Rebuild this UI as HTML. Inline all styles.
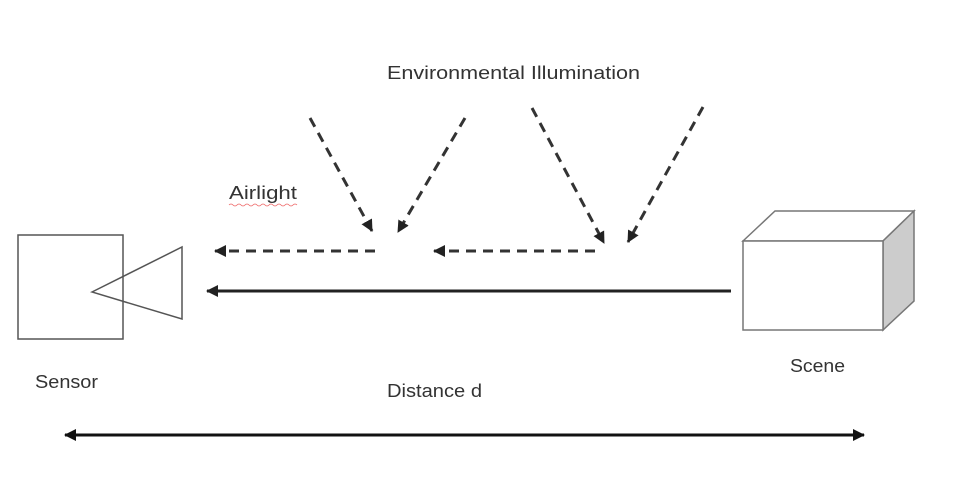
<!DOCTYPE html>
<html><head><meta charset="utf-8"><style>
html,body{margin:0;padding:0;background:#fff;width:977px;height:478px;overflow:hidden}
svg text{font-family:"Liberation Sans",sans-serif;font-size:18px;fill:#333}
</style></head><body>
<svg width="977" height="478" viewBox="0 0 977 478">
<defs>
<marker id="ah" markerWidth="12" markerHeight="12" refX="11" refY="6" orient="auto" markerUnits="userSpaceOnUse"><path d="M0,0 L12,6 L0,12 Z" fill="#222"/></marker>
<marker id="ah2" markerWidth="12" markerHeight="12" refX="11" refY="6" orient="auto-start-reverse" markerUnits="userSpaceOnUse"><path d="M0,0 L12,6 L0,12 Z" fill="#111"/></marker>
</defs>
<text x="387" y="79" textLength="253" lengthAdjust="spacingAndGlyphs">Environmental Illumination</text>
<text x="229" y="199" textLength="68" lengthAdjust="spacingAndGlyphs">Airlight</text>
<path d="M229,205 q2,-2 4,0 t4,0 t4,0 t4,0 t4,0 t4,0 t4,0 t4,0 t4,0 t4,0 t4,0 t4,0 t4,0 t4,0 t4,0 t4,0 t4,0" stroke="#e66" stroke-width="0.8" fill="none"/>
<g stroke="#333" stroke-width="3" stroke-dasharray="10,7" fill="none">
<line x1="310" y1="118" x2="372" y2="231" marker-end="url(#ah)"/>
<line x1="465" y1="118" x2="398" y2="232" marker-end="url(#ah)"/>
<line x1="532" y1="108" x2="604" y2="243" marker-end="url(#ah)"/>
<line x1="703" y1="107" x2="628" y2="242" marker-end="url(#ah)"/>
<line x1="375" y1="251" x2="215" y2="251" marker-end="url(#ah)"/>
<line x1="595" y1="251" x2="434" y2="251" marker-end="url(#ah)"/>
</g>
<line x1="731" y1="291" x2="207" y2="291" stroke="#222" stroke-width="3" marker-end="url(#ah)"/>
<rect x="18" y="235" width="105" height="104" fill="none" stroke="#555" stroke-width="1.5"/>
<polygon points="92,292 182,247 182,319" fill="none" stroke="#555" stroke-width="1.5"/>
<g stroke="#777" stroke-width="1.5">
<polygon points="743,241 775,211 914,211 883,241" fill="#fff"/>
<polygon points="883,241 914,211 914,301 883,330" fill="#ccc"/>
<rect x="743" y="241" width="140" height="89" fill="#fff"/>
</g>
<text x="35" y="388" textLength="63" lengthAdjust="spacingAndGlyphs">Sensor</text>
<text x="790" y="372" textLength="55" lengthAdjust="spacingAndGlyphs">Scene</text>
<text x="387" y="397" textLength="95" lengthAdjust="spacingAndGlyphs">Distance d</text>
<line x1="65" y1="435" x2="864" y2="435" stroke="#111" stroke-width="3" marker-start="url(#ah2)" marker-end="url(#ah2)"/>
</svg>
</body></html>
